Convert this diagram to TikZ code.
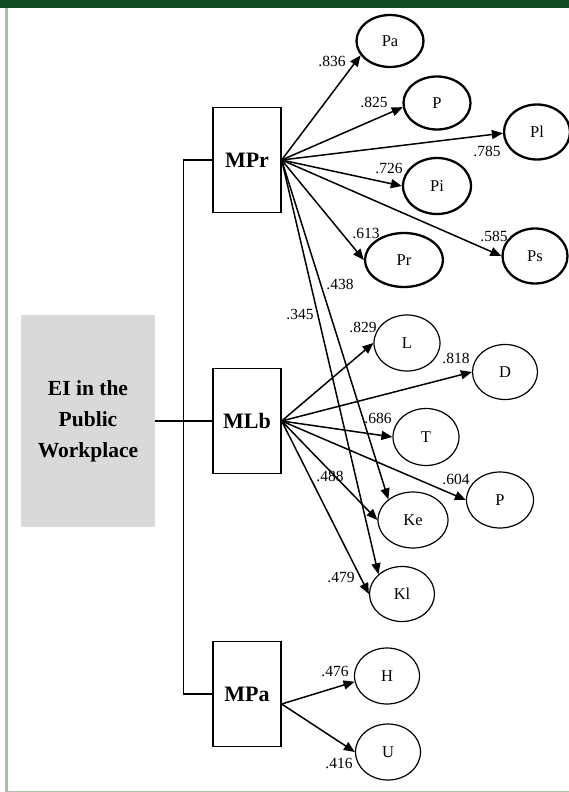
\documentclass[tikz,border=0pt]{standalone}
\usepackage{fontspec}
\setmainfont{Liberation Serif}
\usetikzlibrary{arrows.meta,shapes.geometric}
\definecolor{topgreen}{HTML}{124A25}
\definecolor{sage}{HTML}{A9C0A5}
\definecolor{boxgrey}{HTML}{D9D9D9}
\begin{document}
\begin{tikzpicture}[x=1pt,y=-1pt,
  mbox/.style={draw, line width=1.3pt, minimum width=68pt, minimum height=105pt, inner sep=0pt,
    font=\bfseries\fontsize{22}{22}\selectfont},
  ell/.style={ellipse, draw, line width=1.2pt, inner sep=0pt, font=\fontsize{16.5}{16.5}\selectfont},
  thickell/.style={ell, line width=2.3pt},
  lab/.style={inner sep=0pt, font=\fontsize{15.5}{15.5}\selectfont},
  arr/.style={line width=1.5pt, -{Triangle[length=11pt,width=9pt]}},
  conn/.style={line width=1.5pt}]
\useasboundingbox (0,0) rectangle (569,792);
\fill[topgreen] (0,0) rectangle (569,8);
\fill[sage] (5,8) rectangle (8,792);
\fill[sage] (5,790.5) rectangle (569,792);

% main box
\node[fill=boxgrey, minimum width=134pt, minimum height=212pt, inner sep=0pt, align=center,
  font=\bfseries\fontsize{21.5}{31}\selectfont] (EI) at (88,421) {EI in the\\Public\\Workplace};

% factor boxes
\node[mbox] (MPr) at (247,160) {MPr};
\node[mbox] (MLb) at (247,421) {MLb};
\node[mbox] (MPa) at (247,694) {MPa};

% MPr indicators
\node[thickell, minimum width=67pt, minimum height=52pt] (Pa) at (390,41) {Pa};
\node[thickell, minimum width=67pt, minimum height=53pt] (P1) at (437,103) {P};
\node[thickell, minimum width=66pt, minimum height=55pt] (Pl) at (537,132) {Pl};
\node[thickell, minimum width=68pt, minimum height=56pt] (Pi) at (437,186) {Pi};
\node[thickell, minimum width=78pt, minimum height=54pt] (Pr) at (404,260) {Pr};
\node[thickell, minimum width=65pt, minimum height=55pt] (Ps) at (535,256) {Ps};

% MLb indicators
\node[ell, minimum width=66pt, minimum height=56pt] (L) at (407,343) {L};
\node[ell, minimum width=65pt, minimum height=55pt] (D) at (505,372) {D};
\node[ell, minimum width=66pt, minimum height=57pt] (T) at (426,437) {T};
\node[ell, minimum width=67pt, minimum height=56pt] (P2) at (500,500) {P};
\node[ell, minimum width=70pt, minimum height=56pt] (Ke) at (413,520) {Ke};
\node[ell, minimum width=65pt, minimum height=55pt] (Kl) at (402,594) {Kl};

% MPa indicators
\node[ell, minimum width=65pt, minimum height=56pt] (H) at (387,676) {H};
\node[ell, minimum width=65pt, minimum height=56pt] (U) at (388,752) {U};

% tree connectors
\draw[conn] (EI.east) -- (MLb.west);
\draw[conn] (MPr.west) -- ++(-29,0) |- (MPa.west);

% MPr arrows
\draw[arr] (MPr.east) -- (Pa.206);
\draw[arr] (MPr.east) -- (P1.187);
\draw[arr] (MPr.east) -- (Pl.182);
\draw[arr] (MPr.east) -- (Pi.west);
\draw[arr] (MPr.east) -- (Pr.west);
\draw[arr] (MPr.east) -- (Ps.west);
\draw[arr] (MPr.east) -- (Ke.140);
\draw[arr] (MPr.east) -- (Kl.140);

% MLb arrows
\draw[arr] (MLb.east) -- (L.west);
\draw[arr] (MLb.east) -- (D.west);
\draw[arr] (MLb.east) -- (T.west);
\draw[arr] (MLb.east) -- (P2.west);
\draw[arr] (MLb.east) -- (Ke.west);
\draw[arr] (MLb.east) -- (Kl.west);

% MPa arrows
\coordinate (mpo) at ([yshift=-10pt]MPa.east);
\draw[arr] (mpo) -- (H.190);
\draw[arr] (mpo) -- (U.west);

% loadings
\node[lab] (l836) at (332,61) {.836};
\node[lab] (l825) at (374,102) {.825};
\node[lab] (l785) at (487,151) {.785};
\node[lab] (l726) at (389,168) {.726};
\node[lab] (l613) at (366,233) {.613};
\node[lab] (l585) at (494,236) {.585};
\node[lab] (l438) at (340,284) {.438};
\node[lab] (l345) at (300,314) {.345};
\node[lab] (l829) at (363,327) {.829};
\node[lab] (l818) at (456,358) {.818};
\node[lab] (l686) at (378,418) {.686};
\node[lab] (l604) at (456,479) {.604};
\node[lab] (l488) at (330,476) {.488};
\node[lab] (l479) at (341,577) {.479};
\node[lab] (l476) at (335,671) {.476};
\node[lab] (l416) at (339,763) {.416};
\end{tikzpicture}
\end{document}
